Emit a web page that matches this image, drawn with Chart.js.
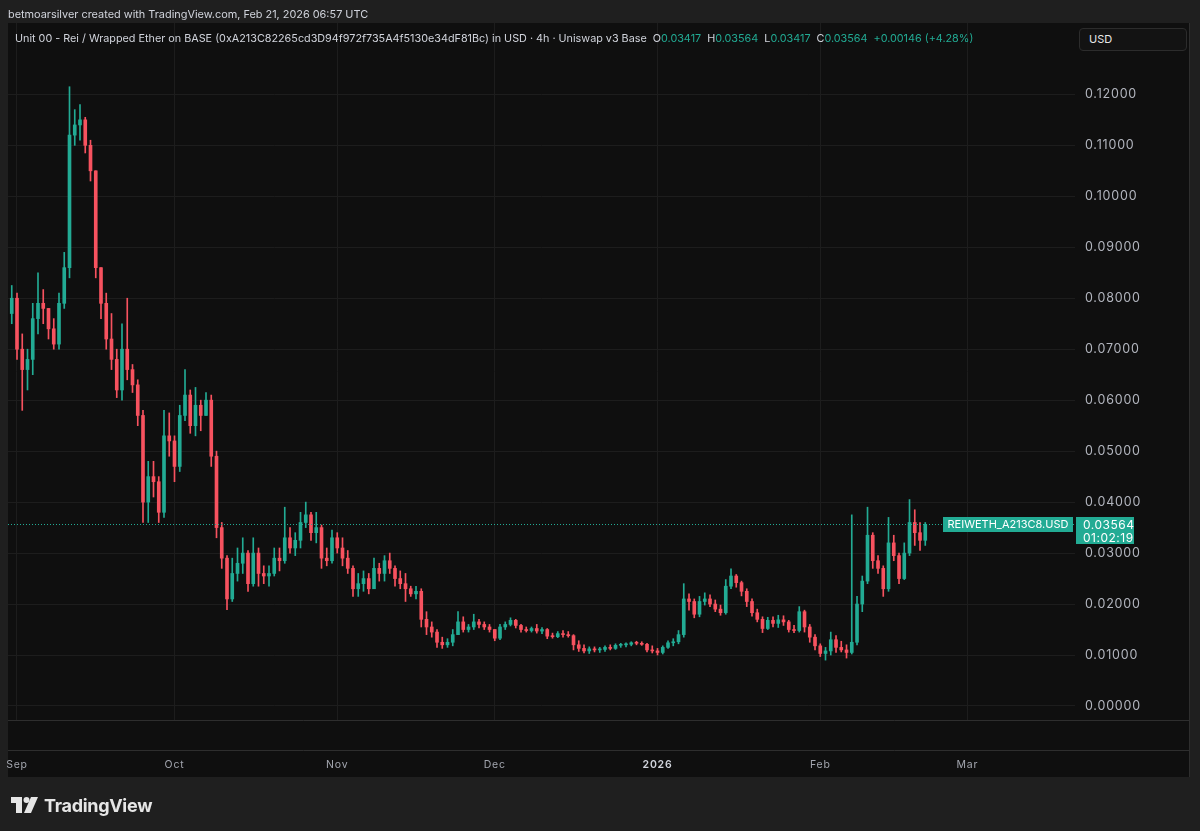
<!DOCTYPE html>
<html><head><meta charset="utf-8">
<script src="https://cdn.jsdelivr.net/npm/chart.js@4.4.1/dist/chart.umd.min.js"></script>
<style>
html,body{margin:0;padding:0;background:#1f1f1f;width:1200px;height:831px;overflow:hidden;font-family:Inter,"Noto Sans",sans-serif;}
#wrap{position:relative;width:1200px;height:831px;}
canvas{position:absolute;left:0;top:0;}
.ov{position:absolute;white-space:nowrap;}
#hdr{left:8px;top:6px;font-size:10.9px;line-height:16px;color:#d1d4dc;}
#legend{left:15px;top:31px;font-size:10.8px;line-height:16px;color:#d1d4dc;}
#legend .v{color:#22ab94;}
#legend .g{margin-left:6px;}
#usd{left:1079px;top:28px;width:106px;height:21px;border:1px solid #2c2c2c;border-radius:4px;background:#131313;color:#e8e8e8;font-size:11px;line-height:21px;}
#usd span{margin-left:9px}
#logo{left:11px;top:795px;display:flex;align-items:center;height:20px;}
#logo span{font-weight:700;font-size:18px;color:#e6e6e6;margin-left:6px;letter-spacing:-0.3px}
</style></head>
<body><div id="wrap">
<canvas id="c" width="1200" height="831"></canvas>
<div class="ov" id="hdr">betmoarsilver created with TradingView.com, Feb 21, 2026 06:57 UTC</div>
<div class="ov" id="legend"></div>
<div class="ov" id="usd"><span>USD</span></div>
<div class="ov" id="logo"><svg width="27" height="16" viewBox="0 0 27 16"><path d="M0 0H11V16H5V6H0Z" fill="#e6e6e6"/><circle cx="15.5" cy="3" r="3" fill="#e6e6e6"/><path d="M20 0H27L20 16H13Z" fill="#e6e6e6"/></svg><span>TradingView</span></div>
</div>
<script>
// ---- data (daily candles, day 0 = Sep 1) ----
const firstDay = -1;
const monthTickDays = [0, 30, 61, 91, 122, 153, 181];
const monthTickLabels = ['Sep', 'Oct', 'Nov', 'Dec', '2026', 'Feb', 'Mar'];
const priceTicks = [0, 0.01, 0.02, 0.03, 0.04, 0.05, 0.06, 0.07, 0.08, 0.09, 0.10, 0.11, 0.12];

const opens = [
0.077,0.080,0.070,0.066,0.068,0.076,0.079,0.078,0.074,0.071,
0.079,0.086,0.112,0.114,0.115,0.110,0.105,0.086,0.079,0.072,
0.068,0.062,0.070,0.066,0.063,0.057,0.040,0.045,0.044,0.038,
0.053,0.052,0.047,0.057,0.061,0.055,0.059,0.057,0.060,0.049,
0.035,0.029,0.021,0.026,0.028,0.030,0.024,0.030,0.026,0.0255,
0.026,0.029,0.0285,0.033,0.031,0.0325,0.036,0.0375,0.034,0.035,
0.029,0.0285,0.033,0.031,0.029,0.027,0.023,0.024,0.025,0.023,
0.027,0.026,0.0285,0.027,0.025,0.024,0.023,0.022,0.0225,0.017,
0.0155,0.0145,0.0125,0.012,0.0125,0.014,0.0165,0.015,0.0155,0.0165,
0.016,0.0155,0.015,0.0133,0.0155,0.016,0.0168,0.0158,0.015,0.0148,
0.0152,0.0147,0.015,0.0137,0.0136,0.0142,0.014,0.0138,0.012,0.0113,
0.0108,0.0112,0.011,0.0111,0.0115,0.0113,0.0119,0.012,0.0121,0.0124,
0.0123,0.0121,0.011,0.0108,0.0105,0.0115,0.0124,0.0126,0.014,0.021,
0.0205,0.018,0.0205,0.021,0.020,0.019,0.0183,0.0235,0.0255,0.0242,
0.0225,0.0205,0.0183,0.017,0.0152,0.0168,0.0162,0.0169,0.0165,0.015,
0.0148,0.0185,0.0155,0.0135,0.0118,0.0103,0.0108,0.013,0.0115,0.011,
0.0105,0.0125,0.020,0.0245,0.0335,0.0285,0.027,0.023,0.032,0.0295,
0.025,0.030,0.036,0.034,0.0325
];
const highs = [
0.0825,0.081,0.073,0.070,0.079,0.085,0.0817,0.078,0.076,0.081,
0.089,0.1215,0.117,0.118,0.1155,0.111,0.105,0.086,0.081,0.077,
0.070,0.075,0.080,0.067,0.064,0.058,0.048,0.048,0.045,0.058,
0.0575,0.053,0.059,0.066,0.062,0.0625,0.060,0.0615,0.061,0.050,
0.036,0.0295,0.029,0.031,0.033,0.0305,0.033,0.031,0.0275,0.0275,
0.031,0.031,0.039,0.035,0.034,0.038,0.040,0.038,0.038,0.0355,
0.031,0.0345,0.034,0.033,0.0305,0.0275,0.026,0.0265,0.026,0.029,
0.028,0.0295,0.030,0.0275,0.0265,0.026,0.0235,0.0235,0.023,0.0185,
0.0165,0.015,0.0135,0.0132,0.015,0.0185,0.0175,0.016,0.018,0.017,
0.0165,0.016,0.015,0.016,0.0165,0.0173,0.017,0.016,0.0155,0.0155,
0.016,0.0154,0.0152,0.0143,0.0146,0.0148,0.0146,0.014,0.0128,0.012,
0.0116,0.0116,0.0115,0.0118,0.012,0.0122,0.0123,0.0124,0.0126,0.0127,
0.0126,0.0123,0.0118,0.0113,0.0118,0.0128,0.0132,0.0148,0.024,0.022,
0.021,0.0215,0.0222,0.0218,0.0208,0.0198,0.0248,0.0269,0.0258,0.0245,
0.023,0.021,0.019,0.0175,0.0174,0.0175,0.0178,0.0177,0.0168,0.0158,
0.0195,0.0188,0.016,0.014,0.0122,0.0115,0.0145,0.0138,0.0127,0.012,
0.0375,0.0215,0.0255,0.039,0.034,0.0295,0.0275,0.037,0.0335,0.030,
0.032,0.0405,0.0385,0.036,0.036
];
const lows = [
0.075,0.068,0.058,0.062,0.065,0.073,0.075,0.072,0.070,0.070,
0.078,0.084,0.110,0.111,0.1085,0.103,0.084,0.076,0.070,0.066,
0.0605,0.060,0.064,0.0615,0.055,0.036,0.036,0.041,0.036,0.037,
0.049,0.044,0.046,0.056,0.0535,0.053,0.054,0.057,0.047,0.033,
0.027,0.0189,0.0205,0.0245,0.026,0.0225,0.0235,0.0235,0.024,0.0235,
0.0255,0.0265,0.028,0.030,0.0295,0.031,0.035,0.0325,0.032,0.027,
0.0275,0.028,0.030,0.0275,0.026,0.0215,0.0215,0.0225,0.022,0.023,
0.0245,0.0245,0.026,0.0235,0.023,0.0205,0.0215,0.021,0.0155,0.014,
0.0135,0.0115,0.0113,0.0115,0.0118,0.014,0.0145,0.0145,0.015,0.0153,
0.015,0.0145,0.0128,0.013,0.015,0.0157,0.0153,0.0145,0.0145,0.0145,
0.0143,0.0142,0.0132,0.0133,0.0134,0.0135,0.0135,0.011,0.0107,0.0104,
0.0103,0.0106,0.0105,0.0107,0.011,0.0111,0.0115,0.0116,0.0118,0.012,
0.0119,0.0106,0.0104,0.010,0.0102,0.0113,0.0118,0.0122,0.0135,0.0188,
0.0173,0.0175,0.0198,0.0195,0.0185,0.0178,0.018,0.023,0.0233,0.0216,
0.0195,0.0176,0.0165,0.0144,0.015,0.0155,0.0154,0.0158,0.0145,0.0144,
0.0145,0.0145,0.0125,0.011,0.0097,0.009,0.010,0.0105,0.0106,0.0094,
0.0102,0.012,0.0185,0.024,0.027,0.026,0.0215,0.0225,0.0285,0.024,
0.0248,0.0295,0.0315,0.0305,0.0315
];
const closes = [
0.080,0.070,0.066,0.068,0.076,0.079,0.078,0.074,0.071,0.079,
0.086,0.112,0.114,0.115,0.110,0.105,0.086,0.079,0.072,0.068,
0.062,0.070,0.066,0.063,0.057,0.040,0.045,0.044,0.038,0.053,
0.052,0.047,0.057,0.061,0.055,0.059,0.057,0.060,0.049,0.035,
0.029,0.021,0.026,0.028,0.030,0.024,0.030,0.026,0.0255,0.026,
0.029,0.0285,0.033,0.031,0.0325,0.036,0.0375,0.034,0.035,0.029,
0.0285,0.033,0.031,0.029,0.027,0.023,0.024,0.025,0.023,0.027,
0.026,0.0285,0.027,0.025,0.024,0.023,0.022,0.0225,0.017,0.0155,
0.0145,0.0125,0.012,0.0125,0.014,0.0165,0.015,0.0155,0.0165,0.016,
0.0155,0.015,0.0133,0.0155,0.016,0.0168,0.0158,0.015,0.0148,0.0152,
0.0147,0.015,0.0137,0.0136,0.0142,0.014,0.0138,0.012,0.0113,0.0108,
0.0112,0.011,0.0111,0.0115,0.0113,0.0119,0.012,0.0121,0.0124,0.0123,
0.0121,0.011,0.0108,0.0105,0.0115,0.0124,0.0126,0.014,0.021,0.0205,
0.018,0.0205,0.021,0.020,0.019,0.0183,0.0235,0.0255,0.0242,0.0225,
0.0205,0.0183,0.017,0.0152,0.0168,0.0162,0.0169,0.0165,0.015,0.0148,
0.0185,0.0155,0.0135,0.0118,0.0103,0.0108,0.013,0.0115,0.011,0.0105,
0.0125,0.020,0.0245,0.0335,0.0285,0.027,0.023,0.032,0.0295,0.025,
0.030,0.036,0.034,0.0325,0.03564
];

const titleText = 'Unit 00 - Rei / Wrapped Ether on BASE (0xA213C82265cd3D94f972f735A4f5130e34dF81Bc) in USD · 4h · Uniswap v3 Base';
const legendKeys = ['O', 'H', 'L', 'C'];
const legendValues = ['0.03417', '0.03564', '0.03417', '0.03564'];
const legendChange = '+0.00146 (+4.28%)';
const symbolTag = 'REIWETH_A213C8.USD';
const countdown = '01:02:19';

// ---- styles ----
const upColor = '#22ab94', downColor = '#f7525f';
const gridColor = '#1d1d1d';
const fontFamily = 'Inter, "Noto Sans", sans-serif';

(function () {
  const el = document.getElementById('legend');
  let html = '<span>' + titleText + '</span>';
  legendKeys.forEach((k, i) => {
    html += '<span class="g">' + k + '<span class="v">' + legendValues[i] + '</span></span>';
  });
  html += '<span class="g v">' + legendChange + '</span>';
  el.innerHTML = html;
})();

const candleColors = closes.map((c, i) => (c >= opens[i] ? upColor : downColor));
const wickData = highs.map((h, i) => ({ x: firstDay + i, y: [lows[i], h] }));
const bodyData = closes.map((c, i) => ({ x: firstDay + i, y: [opens[i], c] }));

const paneBg = {
  id: 'paneBg',
  beforeDraw(chart) {
    const ctx = chart.ctx;
    ctx.save();
    ctx.fillStyle = '#1f1f1f';
    ctx.fillRect(0, 0, 1200, 831);
    ctx.fillStyle = '#0f0f0f';
    ctx.fillRect(8, 23, 1182, 754);
    ctx.restore();
    ctx.letterSpacing = '0.8px';
  },
  beforeDatasetsDraw(chart) {
    chart.ctx.letterSpacing = '0px';
  },
  afterDraw(chart) {
    const ctx = chart.ctx, a = chart.chartArea, y = chart.scales.y;
    ctx.save();
    ctx.letterSpacing = '0px';
    ctx.strokeStyle = '#2e2e2e';
    ctx.lineWidth = 1;
    ctx.beginPath();
    ctx.moveTo(8, 720.5); ctx.lineTo(1190, 720.5);
    ctx.moveTo(8, 750.5); ctx.lineTo(1190, 750.5);
    ctx.moveTo(1189.5, 23); ctx.lineTo(1189.5, 777);
    ctx.stroke();

    const last = closes[closes.length - 1];
    const py = Math.round(y.getPixelForValue(last)) + 0.5;
    ctx.strokeStyle = upColor;
    ctx.setLineDash([1, 2]);
    ctx.beginPath();
    ctx.moveTo(a.left, py); ctx.lineTo(a.right, py);
    ctx.stroke();
    ctx.setLineDash([]);

    ctx.font = '11px ' + fontFamily;
    ctx.textBaseline = 'middle';
    const tw = ctx.measureText(symbolTag).width;
    const bw = Math.round(tw + 9);
    const bx = a.right - 2 - bw;
    ctx.fillStyle = upColor;
    ctx.fillRect(bx, py - 7.5, bw, 15);
    ctx.fillStyle = '#ffffff';
    ctx.fillText(symbolTag, bx + 4.5, py + 0.5);

    ctx.font = '12px ' + fontFamily;
    ctx.letterSpacing = '0.5px';
    ctx.fillStyle = upColor;
    ctx.fillRect(a.right + 1, py - 7.5, 58, 27);
    ctx.fillStyle = '#ffffff';
    ctx.fillText(last.toFixed(5), a.right + 8, py + 0.5);
    ctx.fillText(countdown, a.right + 8, py + 13.5);
    ctx.restore();
  }
};

new Chart(document.getElementById('c').getContext('2d'), {
  type: 'bar',
  data: {
    datasets: [
      { label: 'body', data: bodyData, backgroundColor: candleColors, barThickness: 3, minBarLength: 1, grouped: false, borderWidth: 0 },
      { label: 'wick', data: wickData, backgroundColor: candleColors, barThickness: 1, grouped: false, borderWidth: 0 }
    ]
  },
  options: {
    responsive: false,
    animation: false,
    devicePixelRatio: 1,
    layout: { padding: { left: 8, top: 23, right: 10, bottom: 53 } },
    plugins: { legend: { display: false }, tooltip: { enabled: false } },
    scales: {
      x: {
        type: 'linear',
        min: -1.714,
        max: 201.52,
        offset: false,
        grid: { color: gridColor, drawTicks: false, offset: false },
        border: { display: false },
        afterBuildTicks(s) { s.ticks = monthTickDays.map(v => ({ value: v })); },
        afterFit(s) { s.height = 58; s.paddingLeft = 0; s.paddingRight = 0; },
        ticks: {
          maxRotation: 0,
          autoSkip: false,
          padding: 39,
          callback: (v, i) => monthTickLabels[i],
          color: c => (monthTickLabels[c.index] === '2026' ? '#d1d4dc' : '#a3a6af'),
          font: c => ({ family: fontFamily, size: 10.5, weight: monthTickLabels[c.index] === '2026' ? '600' : '400' })
        }
      },
      y: {
        position: 'right',
        min: -0.00275,
        max: 0.134,
        grid: { color: gridColor, drawTicks: false },
        border: { display: false },
        afterBuildTicks(s) { s.ticks = priceTicks.map(v => ({ value: v })); },
        afterFit(s) { s.width = 115; s.paddingTop = 0; s.paddingBottom = 0; },
        ticks: {
          padding: 10,
          color: '#b2b5be',
          font: { family: fontFamily, size: 12.5 },
          callback: v => Number(v).toFixed(5)
        }
      }
    }
  },
  plugins: [paneBg]
});
</script>
</body></html>
